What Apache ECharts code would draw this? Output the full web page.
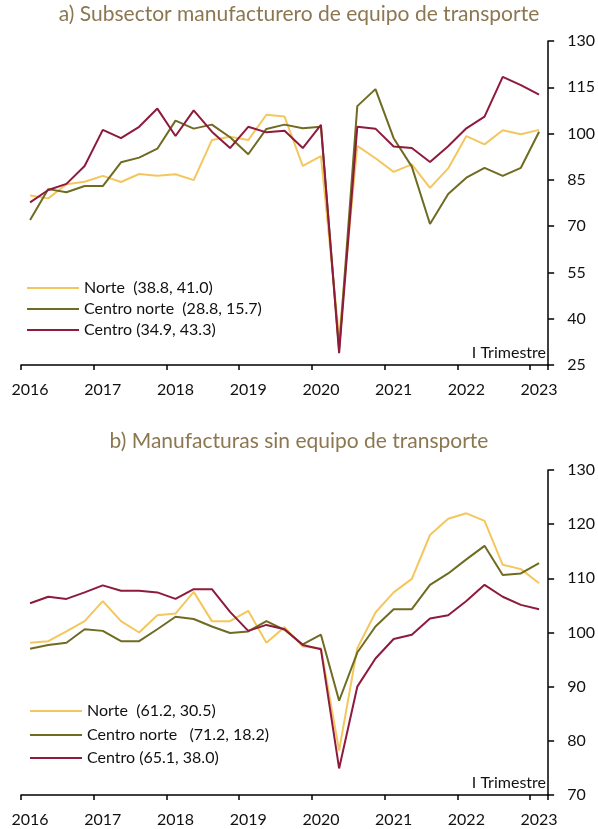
<!DOCTYPE html>
<html><head><meta charset="utf-8">
<script src="https://cdn.jsdelivr.net/npm/echarts@6/dist/echarts.min.js"></script>
<style>html,body{margin:0;padding:0;background:#fff}#c{width:598px;height:829px}</style>
</head><body><div id="c"></div>
<script>
var years = ['2016','2017','2018','2019','2020','2021','2022','2023'];
var quarterNames = ['I','II','III','IV'];
var titleA = 'a) Subsector manufacturero de equipo de transporte';
var titleB = 'b) Manufacturas sin equipo de transporte';
var namesA = ['Norte  (38.8, 41.0)', 'Centro norte  (28.8, 15.7)', 'Centro (34.9, 43.3)'];
var namesB = ['Norte  (61.2, 30.5)', 'Centro norte   (71.2, 18.2)', 'Centro (65.1, 38.0)'];
var topNorte = [79.9, 79.0, 83.6, 84.4, 86.3, 84.3, 86.9, 86.3, 86.8, 84.9, 97.9, 99.0, 97.9, 106.1, 105.5, 89.5, 92.7, 34.0, 96.0, 92.0, 87.6, 90.0, 82.4, 88.7, 99.2, 96.5, 101.1, 99.8, 101.2];
var topCentroNorte = [72.0, 82.0, 81.0, 83.0, 83.0, 90.7, 92.2, 95.1, 104.2, 101.6, 102.9, 98.8, 93.3, 101.5, 102.9, 101.7, 102.2, 30.0, 108.9, 114.4, 98.5, 89.3, 70.7, 80.4, 85.7, 88.9, 86.3, 88.9, 100.6];
var topCentro = [77.7, 81.7, 83.7, 89.5, 101.2, 98.5, 102.2, 108.1, 99.2, 107.5, 100.6, 95.3, 102.2, 100.4, 100.9, 95.3, 102.8, 28.8, 102.2, 101.6, 95.8, 95.3, 90.8, 95.9, 101.7, 105.5, 118.4, 115.7, 112.6];
var botNorte = [98.1, 98.4, 100.2, 102.1, 105.8, 102.1, 100.0, 103.2, 103.5, 107.5, 102.1, 102.1, 104.0, 98.1, 101.0, 97.4, 97.1, 78.2, 97.1, 103.7, 107.4, 109.9, 118.0, 121.0, 122.0, 120.6, 112.5, 111.7, 109.1];
var botCentroNorte = [97.0, 97.7, 98.1, 100.6, 100.3, 98.4, 98.4, 100.6, 102.9, 102.5, 101.1, 99.9, 100.2, 102.1, 100.5, 97.8, 99.6, 87.4, 96.3, 101.1, 104.3, 104.3, 108.8, 110.9, 113.5, 116.0, 110.6, 110.9, 112.8];
var botCentro = [105.4, 106.6, 106.2, 107.4, 108.7, 107.7, 107.7, 107.4, 106.2, 108.0, 108.0, 103.8, 100.3, 101.4, 100.6, 97.7, 96.9, 74.9, 90.0, 95.2, 98.8, 99.6, 102.6, 103.2, 105.8, 108.8, 106.6, 105.1, 104.3];
var colors = ['#F4C75E', '#6F6B22', '#8E1A3C'];
var FONT = 'Lato';

var categories = [];
years.forEach(function(y){ quarterNames.forEach(function(q){ categories.push(y + ' ' + q); }); });
categories = categories.slice(0, topNorte.length);

function xAx(g){
  return {type:'category', gridIndex:g, data:categories, boundaryGap:true,
    axisLine:{show:true, onZero:false, lineStyle:{color:'#000', width:1.5}},
    axisTick:{show:true, length:5, interval:3, lineStyle:{color:'#000', width:1.5}},
    splitLine:{show:false},
    axisLabel:{fontFamily:FONT, fontSize:16, color:'#111', margin:17, interval:3,
      formatter:function(v){ return v.split(' ')[0]; }}};
}
function yAx(g, mn, mx, iv){
  return {type:'value', gridIndex:g, position:'right', min:mn, max:mx, interval:iv,
    axisLine:{show:true, onZero:false, lineStyle:{color:'#000', width:1.5}},
    axisTick:{show:true, length:6, lineStyle:{color:'#000', width:1.5}},
    splitLine:{show:false},
    axisLabel:{fontFamily:FONT, fontSize:16, color:'#111', margin:19}};
}
function ser(name, data, idx, g){
  return {type:'line', name:name, xAxisIndex:g, yAxisIndex:g, data:data,
    symbol:'none', lineStyle:{width:2, color:colors[idx]}, itemStyle:{color:colors[idx]}, animation:false};
}
function leg(name, left, cy){
  return {data:[name], left:left, top:cy-8, padding:0, itemWidth:52, itemHeight:16, icon:'path://M0,7L52,7L52,9L0,9Z',
    textStyle:{fontFamily:FONT, fontSize:16, color:'#111'}, selectedMode:false};
}
var chart = echarts.init(document.getElementById('c'));
chart.setOption({
  animation:false,
  grid:[{left:21, right:48, top:41, height:324}, {left:21, right:48, top:470, height:325}],
  xAxis:[xAx(0), xAx(1)],
  yAxis:[yAx(0, 25, 130, 15), yAx(1, 70, 130, 10)],
  legend:[leg(namesA[0], 27, 288), leg(namesA[1], 27, 309), leg(namesA[2], 27, 330),
          leg(namesB[0], 30, 711), leg(namesB[1], 30, 735), leg(namesB[2], 30, 758)],
  graphic:[
    {type:'text', left:'center', top:4, style:{text:titleA, fontFamily:FONT, fontSize:21, fill:'#8C7751'}},
    {type:'text', left:'center', top:431, style:{text:titleB, fontFamily:FONT, fontSize:21, fill:'#8C7751'}},
    {type:'text', right:52, top:345, style:{text:'I Trimestre', fontFamily:FONT, fontSize:16, fill:'#111'}},
    {type:'text', right:52, top:775, style:{text:'I Trimestre', fontFamily:FONT, fontSize:16, fill:'#111'}}
  ],
  series:[
    ser(namesA[0], topNorte, 0, 0), ser(namesA[1], topCentroNorte, 1, 0), ser(namesA[2], topCentro, 2, 0),
    ser(namesB[0], botNorte, 0, 1), ser(namesB[1], botCentroNorte, 1, 1), ser(namesB[2], botCentro, 2, 1)
  ]
});
</script></body></html>
